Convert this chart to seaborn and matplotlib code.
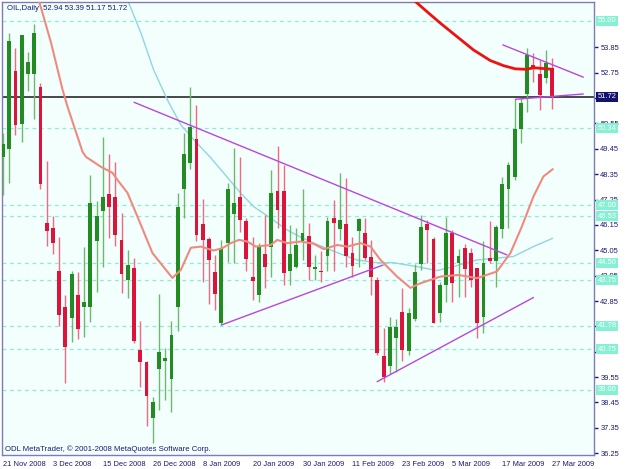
import matplotlib
matplotlib.use("Agg")
import matplotlib.pyplot as plt
import matplotlib.transforms as mtransforms
import numpy as np
import pandas as pd
import seaborn as sns

# daily bars 21 Nov 2008 .. 27 Mar 2009 (no 25 Dec / 1 Jan)
dates = pd.bdate_range("2008-11-21", "2009-03-27")
dates = dates[~dates.isin(pd.to_datetime(["2008-12-25", "2009-01-01"]))]

opens = [49.10, 49.45, 52.83, 50.53, 52.70, 52.70, 52.12, 46.25, 46.01, 44.15,
         42.59, 42.12, 43.10, 42.61, 42.61, 45.47, 46.76, 47.49, 47.35, 45.50,
         43.76, 44.26, 40.73, 40.19, 37.77, 39.89, 40.26, 39.45, 42.61, 47.70,
         48.83, 49.87, 46.17, 45.53, 44.11, 41.90, 45.37, 46.63, 47.38, 46.34,
         43.91, 43.12, 44.89, 45.21, 47.60, 47.60, 44.17, 44.31, 45.47, 45.67,
         44.22, 44.17, 44.80, 46.44, 45.98, 46.19, 44.95, 45.90, 45.79, 44.75,
         43.76, 40.47, 40.03, 41.23, 42.37, 40.66, 42.06, 44.44, 46.19, 45.54,
         42.34, 43.55, 45.82, 44.49, 45.16, 44.92, 44.27, 42.15, 44.71, 44.60,
         45.98, 47.71, 48.24, 50.30, 51.82, 53.09, 52.70, 52.51, 52.94]
highs = [50.14, 54.47, 53.81, 54.40, 53.67, 54.87, 52.30, 48.93, 46.54, 45.63,
         43.11, 44.13, 44.11, 45.21, 48.32, 47.19, 49.98, 49.23, 48.90, 46.66,
         45.07, 44.71, 42.00, 40.25, 38.68, 43.16, 40.81, 41.98, 47.54, 50.14,
         52.12, 51.36, 47.28, 45.62, 44.85, 45.50, 47.97, 49.50, 49.11, 46.44,
         45.62, 45.38, 46.58, 48.54, 49.59, 48.75, 46.15, 46.01, 47.70, 46.22,
         44.85, 45.04, 46.51, 47.24, 48.39, 48.18, 45.62, 46.44, 46.44, 45.50,
         43.91, 41.67, 42.15, 42.06, 43.40, 42.53, 44.46, 46.58, 46.37, 45.63,
         43.69, 46.48, 45.93, 45.09, 45.32, 45.14, 44.28, 45.47, 46.34, 46.15,
         48.25, 48.90, 51.60, 51.65, 53.81, 53.60, 53.31, 53.74, 53.39]
lows = [47.45, 47.97, 50.05, 49.76, 51.98, 50.75, 47.71, 45.25, 44.89, 41.77,
        39.29, 41.05, 41.19, 41.30, 41.96, 43.25, 44.34, 45.57, 45.24, 43.18,
        42.98, 41.03, 39.13, 37.44, 36.70, 38.12, 38.56, 38.05, 41.55, 46.45,
        48.57, 45.46, 43.69, 42.73, 42.46, 41.81, 44.55, 44.50, 45.86, 44.17,
        42.90, 42.82, 43.40, 43.88, 46.01, 43.55, 43.55, 44.28, 44.63, 43.76,
        43.76, 43.69, 44.17, 44.17, 45.50, 44.34, 43.91, 44.31, 44.63, 43.12,
        40.51, 39.35, 39.68, 39.79, 40.25, 40.51, 41.98, 44.20, 44.49, 41.90,
        41.96, 42.82, 42.82, 43.04, 43.04, 43.47, 41.24, 41.45, 44.49, 43.45,
        45.57, 46.01, 48.10, 49.69, 51.06, 52.37, 51.14, 52.32, 51.17]
closes = [49.66, 54.14, 50.49, 54.39, 53.21, 54.47, 47.92, 45.90, 45.38, 42.25,
          40.86, 44.03, 41.63, 42.80, 47.12, 46.55, 47.38, 46.94, 45.72, 44.02,
          44.41, 41.12, 40.19, 38.71, 38.46, 40.65, 40.39, 41.38, 46.94, 49.23,
          50.41, 45.72, 45.50, 44.63, 43.16, 45.14, 47.70, 47.12, 46.37, 44.66,
          43.73, 45.24, 44.31, 47.53, 46.80, 44.06, 44.89, 45.28, 45.79, 44.31,
          44.31, 44.10, 46.33, 46.25, 46.37, 44.80, 44.38, 46.40, 44.73, 43.88,
          40.61, 39.54, 41.74, 41.74, 40.73, 42.34, 44.12, 46.08, 45.93, 41.91,
          43.55, 45.82, 43.62, 44.80, 44.22, 43.76, 41.91, 44.51, 44.59, 46.08,
          47.93, 48.75, 50.30, 51.43, 53.52, 52.97, 51.79, 53.17, 51.72]

# moving averages (bar position, price)
fast_ma_x = [5.0, 7.7, 9.55, 10.35, 12.75, 13.3, 15.7, 17.55, 18.35, 19.95, 21.55, 23.95,
             27.15, 28.5, 30.1, 31.7, 33.75, 35.15, 36.5, 37.8, 39.15, 40.5, 42.9, 43.95,
             45.55, 47.7, 49.8, 51.4, 53.55, 55.15, 57.3, 58.9, 60.5, 63.15, 65.3, 66.9,
             70.1, 73.0, 75.95, 79.15, 81.3, 83.15, 85.0, 86.6, 88.1]
fast_ma_y = [56.60, 54.05, 52.01, 51.27, 49.32, 49.10, 48.67, 48.41, 48.10, 47.54, 46.51, 44.93,
             43.85, 44.20, 45.16, 45.21, 45.04, 45.14, 45.36, 45.50, 45.43, 45.21, 45.28, 45.50,
             45.36, 45.43, 45.33, 45.10, 45.28, 45.21, 45.36, 45.21, 44.63, 43.91, 43.42, 43.62,
             43.91, 43.98, 43.84, 44.13, 44.92, 46.08, 47.38, 48.25, 48.57]
mid_ma_x = [18.5, 19.95, 22.1, 24.15, 26.35, 28.5, 30.6, 33.3, 35.4, 38.1, 40.2, 42.9, 45.55,
            47.7, 50.9, 54.1, 56.75, 59.95, 62.6, 66.35, 69.55, 72.2, 75.95, 79.15, 81.8, 85.0, 88.1]
mid_ma_y = [56.60, 55.91, 54.48, 52.87, 51.57, 50.49, 49.84, 49.06, 48.39, 47.53, 46.94, 46.44, 45.93,
            45.62, 45.24, 44.89, 44.63, 44.51, 44.51, 44.34, 44.17, 44.34, 44.63, 44.71, 44.78, 45.21, 45.57]
slow_ma_x = [64.0, 65.8, 67.95, 70.1, 72.75, 75.4, 78.1, 80.2, 82.1, 83.95, 85.0, 87.15, 88.1]
slow_ma_y = [56.50, 55.91, 55.40, 54.90, 54.32, 53.74, 53.28, 53.06, 52.92, 52.90, 52.97, 52.92, 52.90]

# drawn trend lines: (x1, y1, x2, y2) in bar / price units
trend_lines = [(21.0, 51.47, 80.75, 44.85),
               (35.0, 41.81, 60.9, 44.41),
               (59.95, 39.35, 85.0, 43.00),
               (80.1, 53.96, 93.0, 52.56),
               (82.1, 51.60, 93.0, 51.83)]

level_lines = [55.00, 50.34, 47.00, 46.53, 44.50, 43.75, 41.78, 40.75, 39.00]
level_labels = ["55.00", "50.34", "47.00", "46.53", "44.50", "43.75", "41.78", "40.75", "39.00"]
price_ticks = [36.25, 37.35, 38.45, 39.55, 40.65, 41.75, 42.85, 43.95, 45.05, 46.15,
               47.25, 48.35, 49.45, 50.55, 51.65, 52.75, 53.85]
hidden_ticks = [40.65, 41.75, 51.65]   # labels covered by the level boxes
last_price = 51.72

sns.set_style("white")
plt.rcParams["font.family"] = ["Liberation Sans", "DejaVu Sans"]

NAVY = "#1a1a70"
BULL, BEAR = "#228B22", "#DC143C"
BULL_W, BEAR_W = "#6DB86D", "#F06A82"

fig = plt.figure(figsize=(6.25, 4.69), dpi=100, facecolor="white")
ax = fig.add_axes([2 / 625, 14 / 469, 592 / 625, 453 / 469])
ax.set_facecolor("#F3FFFD")

idx = np.arange(len(opens))
o, h, l, c = map(np.array, (opens, highs, lows, closes))
up = c >= o

for lv in level_lines:
    ax.axhline(lv, color="#8AEED3", lw=0.9, ls=(0, (3, 3)), zorder=1)
ax.axhline(last_price, color="#2a2a2a", lw=1.2, zorder=1.5)

ax.vlines(idx, l, h, colors=np.where(up, BULL_W, BEAR_W), lw=1, zorder=3)
body_h = np.maximum(np.abs(c - o), 0.06)
ax.bar(idx, body_h, bottom=np.minimum(o, c), width=0.62,
       color=np.where(up, BULL, BEAR), linewidth=0, zorder=4)

ma = pd.concat([
    pd.DataFrame({"bar": fast_ma_x, "price": fast_ma_y, "ma": "fast"}),
    pd.DataFrame({"bar": mid_ma_x, "price": mid_ma_y, "ma": "mid"}),
    pd.DataFrame({"bar": slow_ma_x, "price": slow_ma_y, "ma": "slow"}),
])
sns.lineplot(data=ma[ma.ma == "mid"], x="bar", y="price", color="#8FD6DF", lw=1.0,
             sort=False, estimator=None, ax=ax, zorder=2)
sns.lineplot(data=ma[ma.ma == "fast"], x="bar", y="price", color="#F08A80", lw=1.5,
             sort=False, estimator=None, ax=ax, zorder=5)
sns.lineplot(data=ma[ma.ma == "slow"], x="bar", y="price", color="#F01010", lw=2.0,
             sort=False, estimator=None, ax=ax, zorder=5)

for x1, y1, x2, y2 in trend_lines:
    ax.plot([x1, x2], [y1, y2], color="#B845E6", lw=1.0, zorder=6)

x_per_px = 1 / 6.24
ax.set_xlim(-1 * x_per_px, (594 - 3) * x_per_px)
ax.set_ylim(36.17, 55.82)
ax.set_xlabel("")
ax.set_ylabel("")

for s in ax.spines.values():
    s.set_color("#7C7CBC")
    s.set_linewidth(1)

tick_idx = list(range(0, len(dates), 8))
ax.set_xticks(tick_idx)
ax.set_xticklabels([f"{dates[i].day} {dates[i].strftime('%b %Y')}" for i in tick_idx],
                   fontsize=5.4, color=NAVY, ha="left")
shift = mtransforms.ScaledTranslation(-1.5 / 100, 0, fig.dpi_scale_trans)
for lab in ax.get_xticklabels():
    lab.set_transform(lab.get_transform() + shift)
ax.tick_params(axis="x", direction="out", length=3, width=1, color=NAVY, pad=1.5)

ax.yaxis.tick_right()
ax.set_yticks(price_ticks)
ax.set_yticklabels(["" if v in hidden_ticks else f"{v:.2f}" for v in price_ticks],
                   fontsize=5.4, color=NAVY)
ax.tick_params(axis="y", direction="out", length=3, width=1, color=NAVY, pad=1.5)

blend = mtransforms.blended_transform_factory(ax.transAxes, ax.transData)
for lv, txt in zip(level_lines, level_labels):
    ax.text(1.006, lv, txt, transform=blend, fontsize=5.4, color="white", ha="left", va="center",
            clip_on=False, zorder=10,
            bbox=dict(boxstyle="square,pad=0.2", fc="#86F0D2", ec="none"))
ax.text(1.006, last_price, f"{last_price:.2f}", transform=blend, fontsize=5.4, color="white",
        ha="left", va="center", clip_on=False, zorder=11,
        bbox=dict(boxstyle="square,pad=0.2", fc="#14146E", ec="none"))

ax.text(5 / 592, 1 - 3 / 453, f"OIL,Daily  {opens[-1]:.2f} {highs[-1]:.2f} {lows[-1]:.2f} {closes[-1]:.2f}",
        transform=ax.transAxes, fontsize=5.6, color=NAVY, ha="left", va="top", zorder=12)
ax.text(3 / 592, 2.5 / 453, "ODL MetaTrader, \u00a9 2001-2008 MetaQuotes Software Corp.",
        transform=ax.transAxes, fontsize=5.6, color=NAVY, ha="left", va="bottom", zorder=12)

fig.savefig("out.png", dpi=100, facecolor="white")
